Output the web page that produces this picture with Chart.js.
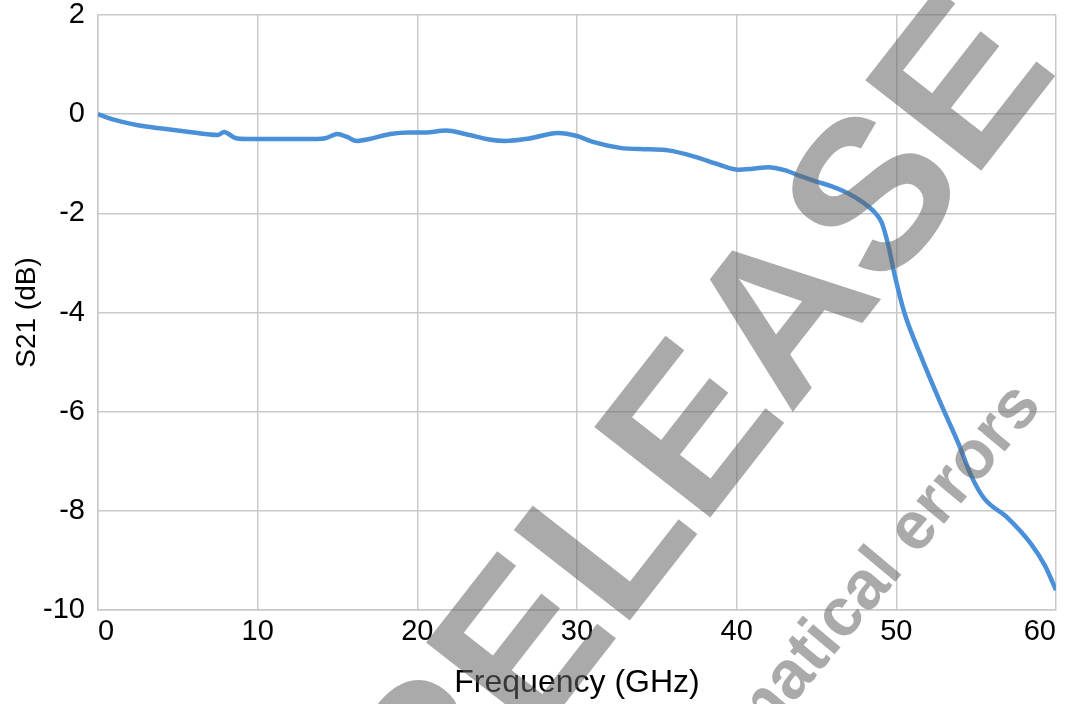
<!DOCTYPE html>
<html>
<head>
<meta charset="utf-8">
<script src="https://cdn.jsdelivr.net/npm/chart.js@4.4.0/dist/chart.umd.min.js"></script>
<style>
  html, body { margin: 0; padding: 0; background: #fff; }
  #wrap { width: 1068px; height: 704px; }
</style>
</head>
<body>
<div id="wrap"><canvas id="myChart" width="1068" height="704"></canvas></div>
<script>
// S21 transmission vs frequency
const freqGHz = [0, 1, 2, 3, 4, 5, 6, 7, 7.5, 7.9, 8.6, 9.3, 10, 12, 13.5, 14.3, 15, 15.6, 16.2, 17, 18.3, 19.5, 20.5,
  21.8, 23, 24.5, 25.5, 27, 28.8, 30, 31, 32.7, 34.5, 35.7, 37.3, 39, 40.1, 41, 42, 43, 44, 45, 46, 47, 48, 48.7, 49.1,
  49.5, 49.9, 50.5, 51.5, 52.8, 53.9, 54.7, 55.5, 57, 58.4, 59.3, 60];
const s21dB = [0, -0.11, -0.19, -0.25, -0.29, -0.33, -0.37, -0.41, -0.42, -0.36, -0.48, -0.5, -0.5, -0.5, -0.5, -0.48, -0.4, -0.46, -0.54, -0.5, -0.4, -0.37, -0.37,
  -0.33, -0.4, -0.51, -0.54, -0.49, -0.38, -0.44, -0.56, -0.68, -0.71, -0.73, -0.85, -1.03, -1.12, -1.1, -1.07, -1.13, -1.25, -1.36, -1.46, -1.6, -1.8, -2.0, -2.2,
  -2.65, -3.25, -4.0, -4.85, -5.85, -6.65, -7.3, -7.75, -8.15, -8.65, -9.1, -9.6];

const xTitle = 'Frequency (GHz)';
const yTitle = 'S21 (dB)';
const watermark = 'RELEASE';
const watermark2 = 'mathematical errors';

const lineColor = 'rgb(74, 144, 217)';
const gridColor = '#c9c9c9';
const fontFamily = '"Liberation Sans", Arial, sans-serif';

// grey diagonal stamp drawn over everything
const stampPlugin = {
  id: 'stamp',
  afterDraw(chart) {
    const ctx = chart.ctx;
    ctx.save();
    ctx.fillStyle = 'rgba(100, 100, 100, 0.55)';
    ctx.textBaseline = 'alphabetic';

    ctx.save();
    ctx.translate(438, 866);
    ctx.rotate(-52 * Math.PI / 180);
    ctx.font = 'bold 214px ' + fontFamily;
    ctx.textAlign = 'left';
    ctx.fillText(watermark, 0, 0);
    ctx.restore();

    ctx.save();
    ctx.translate(1043, 406);
    ctx.rotate(-50 * Math.PI / 180);
    ctx.font = 'bold 68px ' + fontFamily;
    ctx.textAlign = 'right';
    ctx.fillText(watermark2, 0, 0);
    ctx.restore();

    ctx.restore();
  }
};

const ctx = document.getElementById('myChart').getContext('2d');
const chart = new Chart(ctx, {
  type: 'line',
  data: {
    datasets: [{
      label: 'S21',
      data: freqGHz.map((f, i) => ({ x: f, y: s21dB[i] })),
      borderColor: lineColor,
      backgroundColor: lineColor,
      borderWidth: 4.5,
      pointRadius: 0,
      fill: false,
      cubicInterpolationMode: 'monotone'
    }]
  },
  options: {
    responsive: false,
    animation: false,
    devicePixelRatio: 1,
    layout: { padding: 0 },
    plugins: {
      legend: { display: false },
      tooltip: { enabled: false }
    },
    scales: {
      x: {
        type: 'linear',
        min: 0,
        max: 60,
        afterFit: s => { s.height = 94; s.paddingLeft = 0; s.paddingRight = 12; },
        ticks: {
          stepSize: 10,
          color: '#000',
          padding: 5,
          maxRotation: 0,
          align: 'inner',
          font: { family: fontFamily, size: 29 }
        },
        grid: { color: gridColor, lineWidth: 1.5, drawTicks: false },
        border: { color: gridColor, width: 1.5 },
        title: {
          display: true,
          text: xTitle,
          color: '#000',
          padding: { top: 0, bottom: 2 },
          font: { family: fontFamily, size: 32 }
        }
      },
      y: {
        min: -10,
        max: 2,
        afterFit: s => { s.width = 98; s.paddingTop = 15; s.paddingBottom = 0; },
        ticks: {
          stepSize: 2,
          color: '#000',
          padding: 13,
          font: { family: fontFamily, size: 29 }
        },
        grid: { color: gridColor, lineWidth: 1.5, drawTicks: false },
        border: { color: gridColor, width: 1.5 },
        title: {
          display: true,
          text: yTitle,
          color: '#000',
          padding: { top: 10, bottom: 0 },
          font: { family: fontFamily, size: 28 }
        }
      }
    }
  },
  plugins: [stampPlugin]
});
</script>
</body>
</html>
